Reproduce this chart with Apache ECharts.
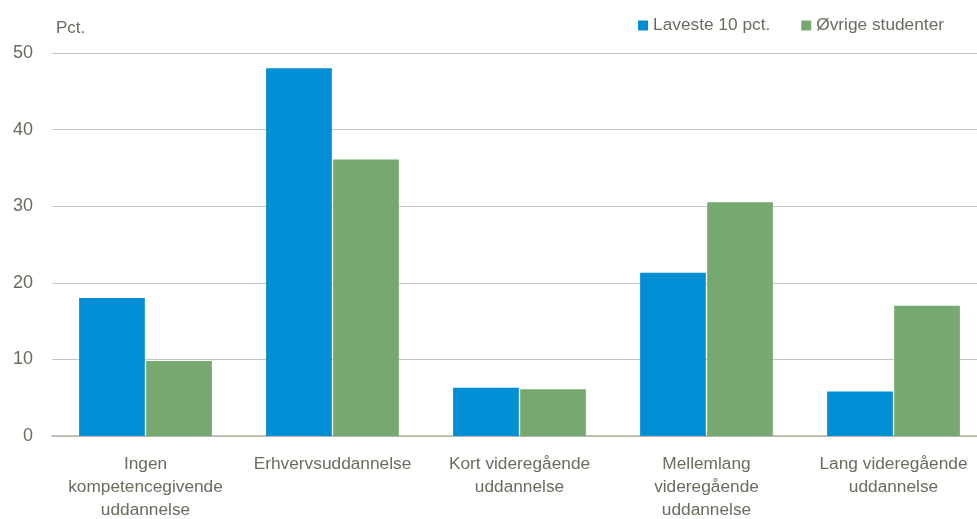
<!DOCTYPE html>
<html><head><meta charset="utf-8">
<script src="https://cdn.jsdelivr.net/npm/echarts@6/dist/echarts.min.js"></script>
<style>html,body{margin:0;padding:0;background:#fff}#c{width:977px;height:519px}</style>
</head><body><div id="c"></div>
<script>
const categories = ["Ingen\nkompetencegivende\nuddannelse","Erhvervsuddannelse","Kort videregående\nuddannelse","Mellemlang\nvideregående\nuddannelse","Lang videregående\nuddannelse"];
const seriesNames = ["Laveste 10 pct.","Øvrige studenter"];
const laveste = [18.0, 48.0, 6.3, 21.3, 5.8];
const oevrige = [9.8, 36.1, 6.1, 30.5, 17.0];
const yTicks = {min:0, max:50, interval:10};
const textColor = "#6b6b5e";
const chart = echarts.init(document.getElementById('c'));
chart.setOption({
  animation:false,
  textStyle:{fontFamily:"Liberation Sans, Arial, sans-serif"},
  legend:{top:12, right:28, itemWidth:10, itemHeight:10, itemGap:31, icon:'rect',
    textStyle:{color:textColor, fontSize:17.3, fontFamily:"Liberation Sans"}},
  grid:{left:52, width:935, top:53, height:383, containLabel:false, outerBoundsMode:'none'},
  xAxis:{type:'category', data:categories,
    axisLine:{lineStyle:{color:'#b4b2a6', width:1.5}}, axisTick:{show:false},
    axisLabel:{color:textColor, fontSize:17.3, lineHeight:23, margin:17, interval:0, fontFamily:"Liberation Sans"}},
  yAxis:{type:'value', min:yTicks.min, max:yTicks.max, interval:yTicks.interval,
    name:'Pct.', nameLocation:'end', nameGap:16, nameTextStyle:{color:textColor, fontSize:17, align:'left', padding:[0,0,0,4], fontFamily:"Liberation Sans"},
    axisLine:{show:false}, axisTick:{show:false},
    axisLabel:{color:textColor, fontSize:18, margin:19, fontFamily:"Liberation Sans"},
    splitLine:{lineStyle:{color:'#c8c6bc', width:1}}},
  series:[
    {name:seriesNames[0], type:'bar', data:laveste, itemStyle:{color:'#008fd5'}, barGap:'2%', barCategoryGap:'29%'},
    {name:seriesNames[1], type:'bar', data:oevrige, itemStyle:{color:'#76a970'}}
  ]
});
</script></body></html>
